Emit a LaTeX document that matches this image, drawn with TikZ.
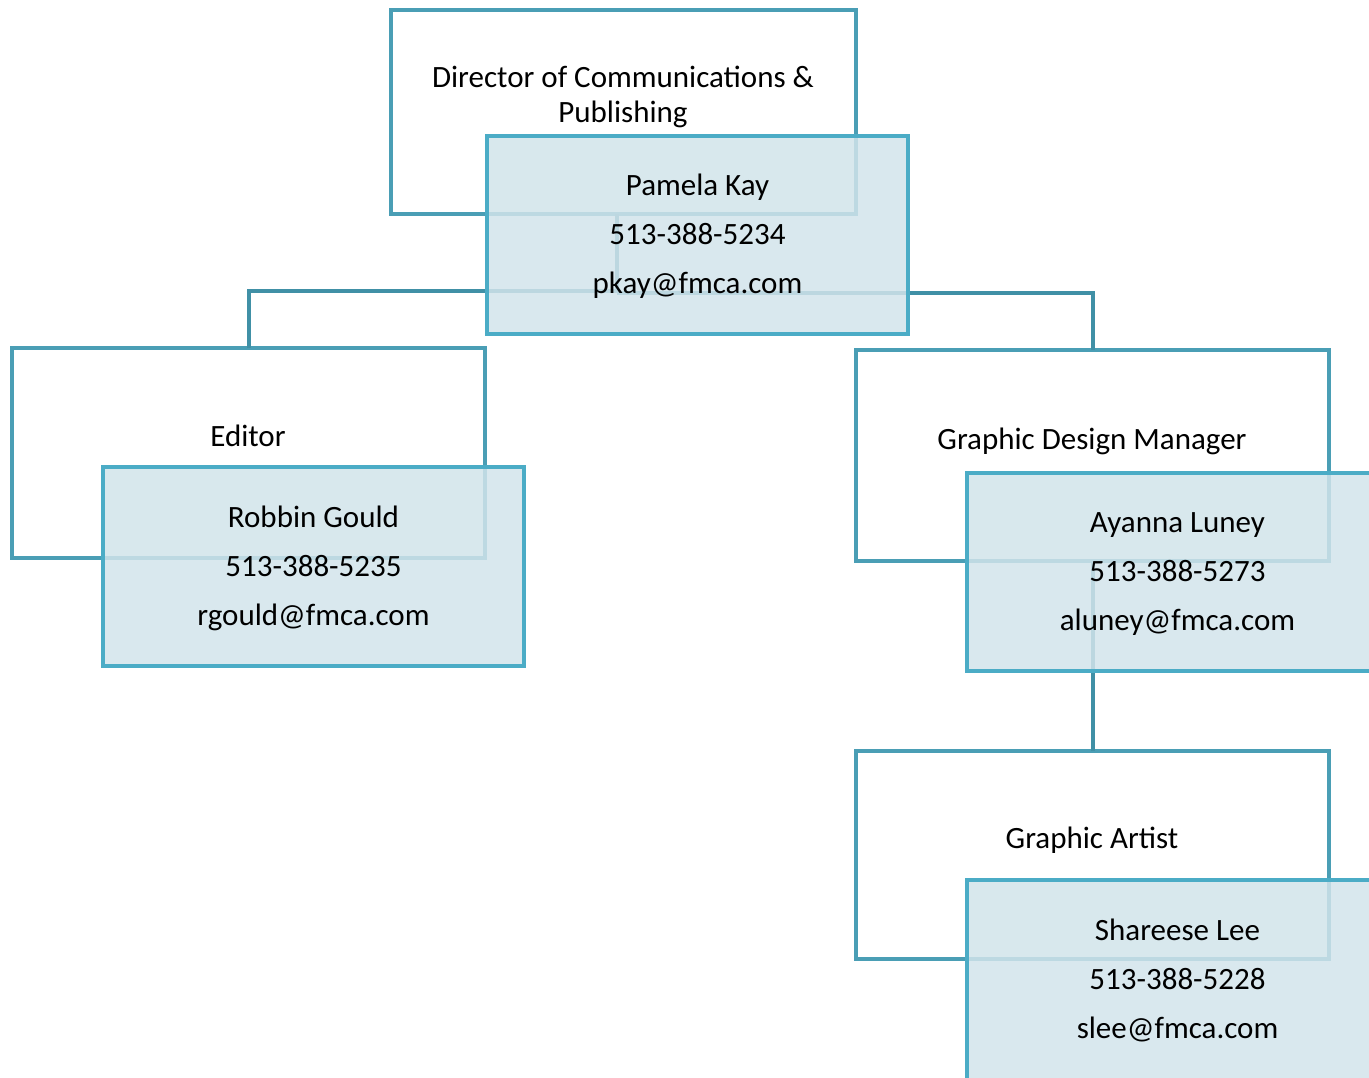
\documentclass[tikz,border=0pt]{standalone}
\usepackage{fontspec}
\setmainfont{Carlito}
\definecolor{titleline}{HTML}{4A9EB5}
\definecolor{nameline}{HTML}{4BACC6}
\definecolor{namefill}{HTML}{D2E4EB}
\definecolor{connline}{HTML}{4090A6}
\newcommand{\nmlines}[3]{\begin{tabular}{@{}c@{}}#1\\#2\\#3\end{tabular}}
\tikzset{
  titlebox/.style={draw=titleline, line width=4pt, fill=white, anchor=north west, inner sep=0pt, outer sep=0pt},
  namebox/.style={draw=nameline, line width=4pt, fill=namefill, fill opacity=0.85, text opacity=1, anchor=north west, inner sep=0pt, outer sep=0pt, align=center, font=\fontsize{31}{49}\selectfont},
  titletext/.style={align=center, inner sep=0pt, font=\fontsize{31}{35}\selectfont},
  conn/.style={draw=connline, line width=4pt}
}
\begin{document}
\begin{tikzpicture}[x=1pt,y=-1pt]
\useasboundingbox (0,0) rectangle (1369,1077);
\clip (0,0) rectangle (1369,1077);
% title boxes
\node[titlebox, minimum width=465pt, minimum height=204pt] (dir) at (391,10) {};
\node[titlebox, minimum width=473pt, minimum height=210pt] (ed) at (12,348) {};
\node[titlebox, minimum width=473pt, minimum height=211pt] (gdm) at (856,350) {};
\node[titlebox, minimum width=473pt, minimum height=208pt] (ga) at (856,751) {};
% title texts
\node[titletext] (dirT) at (623,97) {Director of Communications \&\\Publishing};
\node[titletext] (edT) at (248,436) {Editor};
\node[titletext] (gdmT) at (1092,441) {Graphic Design Manager};
\node[titletext] (gaT) at (1092,840) {Graphic Artist};
% connectors
\coordinate (jl) at (617,291);
\coordinate (jr) at (617,293);
\draw[conn] (jl |- dir.south) -- (jl) -| (ed.north);
\draw[conn] (jr) -| (gdm.north);
\draw[conn] (gdm.south) -- (ga.north);
% name boxes
\node[namebox, minimum width=421pt, minimum height=198pt] (pk) at (487,136) {\nmlines{Pamela Kay}{513-388-5234}{pkay@fmca.com}};
\node[namebox, minimum width=421pt, minimum height=199pt] (rg) at (103,467) {\nmlines{Robbin Gould}{513-388-5235}{rgould@fmca.com}};
\node[namebox, minimum width=421pt, minimum height=198pt] (al) at (967,473) {\nmlines{Ayanna Luney}{513-388-5273}{aluney@fmca.com}};
\node[namebox, minimum width=421pt, minimum height=200pt] (sl) at (967,880) {\nmlines{Shareese Lee}{513-388-5228}{slee@fmca.com}};
\end{tikzpicture}
\end{document}
